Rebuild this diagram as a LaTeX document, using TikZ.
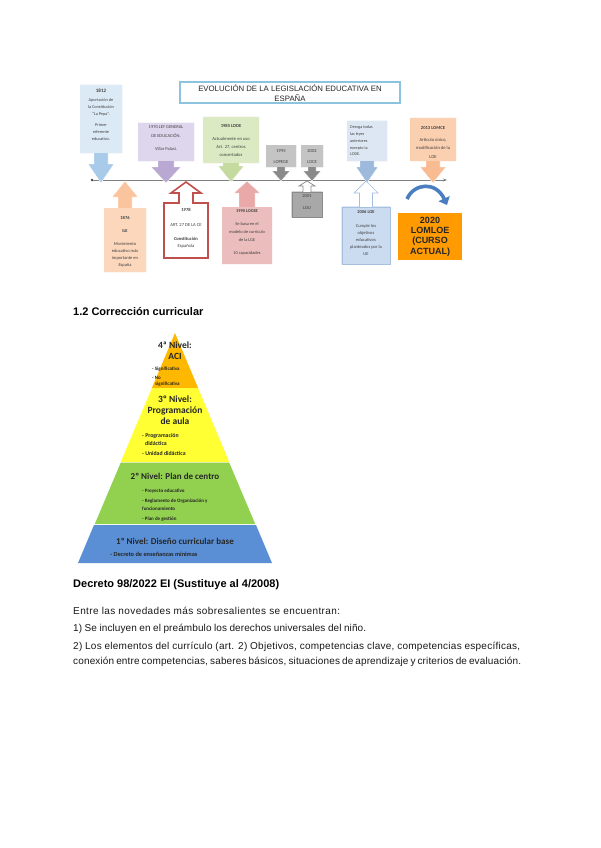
\documentclass[tikz,border=0pt]{standalone}
\usepackage{fontspec}
\setmainfont{Liberation Sans}
\newfontfamily\carl{Carlito}
\newfontfamily\bodyf{Liberation Sans}
\usetikzlibrary{arrows.meta}
\definecolor{tltext}{HTML}{404040}
\definecolor{titleblue}{HTML}{8EC3DF}
\definecolor{lineg}{HTML}{808080}
\definecolor{bBlue}{HTML}{DCEAF6}\definecolor{aBlue}{HTML}{A9CBEA}
\definecolor{bLav}{HTML}{DED6EC}\definecolor{aLav}{HTML}{B9A9D2}
\definecolor{bGreen}{HTML}{DCEAC4}\definecolor{aGreen}{HTML}{C4DA9E}
\definecolor{bGray}{HTML}{C4C4C4}\definecolor{aGray}{HTML}{8A8A8A}
\definecolor{bGray2}{HTML}{A8A8A8}
\definecolor{bBlue2}{HTML}{DDE7F3}\definecolor{aBlue2}{HTML}{9DB9DC}
\definecolor{bPeach}{HTML}{FBD0B0}\definecolor{aPeach}{HTML}{F9BC92}
\definecolor{bPeach2}{HTML}{FCD7BC}\definecolor{aPeach2}{HTML}{FAC59E}
\definecolor{redb}{HTML}{C0504D}
\definecolor{bPink}{HTML}{EBBDBC}\definecolor{aPink}{HTML}{E8A9A8}
\definecolor{bBlue3}{HTML}{CCDCF0}\definecolor{oBlue3}{HTML}{A6C0E0}
\definecolor{orange20}{HTML}{FF9A00}
\definecolor{curveblue}{HTML}{4A7EC0}
\definecolor{pyOrange}{HTML}{FFB800}
\definecolor{pyYellow}{HTML}{FFFF33}
\definecolor{pyGreen}{HTML}{92D050}
\definecolor{pyBlue}{HTML}{5A8FD6}
\newcommand{\callout}[9]{\filldraw[#1] ({#2-#3},#4) -- ({#2+#3},#4) -- ({#2+#3},#5) -- ({#2+#6},#5) -- ({#2+#6},#8) -- ({#2+#7},#8) -- (#2,#9) -- ({#2-#7},#8) -- ({#2-#6},#8) -- ({#2-#6},#5) -- ({#2-#3},#5) -- cycle;}
\begin{document}
\begin{tikzpicture}[x=1pt,y=-1pt,
  tl/.style={font=\carl\fontsize{4.3}{7}\selectfont, text=tltext, align=center, inner sep=0pt, anchor=north},
  pyt/.style={font=\carl\bfseries\fontsize{9.5}{11}\selectfont, text=black!85, align=center, inner sep=0pt},
  pyi/.style={font=\carl\bfseries\fontsize{5}{6}\selectfont, text=black!85, inner sep=0pt, anchor=west},
  body/.style={font=\bodyf\fontsize{10}{12}\selectfont, inner sep=0pt, anchor=west, text=black!90}]
\useasboundingbox (0,0) rectangle (600,848);
\fill[white] (0,0) rectangle (600,848);

% title
\draw[titleblue, line width=1.3pt] (180,82) rectangle (400,103);
\node[font=\fontsize{7.8}{10}\selectfont, align=center, inner sep=0pt, text=black!85] (title) at (290,92.8) {EVOLUCIÓN DE LA LEGISLACIÓN EDUCATIVA EN\\ESPAÑA};

% timeline
\coordinate (tl0) at (92,180);
\coordinate (tl1) at (447,180);
\draw[lineg, line width=0.9pt, -{Stealth[length=4pt,width=3pt]}] (tl0) -- (tl1);
\fill[black!70] (tl0) circle (1.3);

% down callouts
\callout{fill=aBlue, draw=white}{101}{21}{85}{153}{7}{13}{164}{183}
\fill[bBlue] (80,85) rectangle (122,153);
\callout{fill=aLav, draw=white}{166}{28}{123}{161}{8}{15}{167}{183}
\fill[bLav] (138,123) rectangle (194,161);
\callout{fill=aGreen, draw=white}{231}{28}{117}{163}{8}{13}{166}{182}
\fill[bGreen] (203,117) rectangle (259,163);
\callout{fill=aGray, draw=white}{281}{15}{145}{167}{4}{9}{171}{181}
\fill[bGray] (266,145) rectangle (296,167);
\callout{fill=aGray, draw=white}{312}{11}{145}{167}{4}{9}{171}{181}
\fill[bGray] (301,145) rectangle (323,167);
\callout{fill=aBlue2, draw=white}{367}{20}{121}{161}{7}{11}{167}{183}
\fill[bBlue2] (347,121) rectangle (387,161);
\callout{fill=aPeach, draw=white}{433}{23}{118}{161}{7}{13}{167}{183}
\fill[bPeach] (410,118) rectangle (456,161);

% up callouts
\callout{fill=aPeach2, draw=white}{125}{21}{272}{208}{7}{13}{197}{181}
\fill[bPeach2] (104,208) rectangle (146,272);
\callout{fill=white, draw=redb, line width=1.6pt, line join=miter}{186}{22}{258}{203}{7}{15}{193}{182}
\callout{fill=aPink, draw=white}{247}{25}{264}{207}{8}{13}{193}{181}
\fill[bPink] (222,207) rectangle (272,264);
\callout{fill=white, draw=aGray, line width=0.7pt}{307}{15}{217}{192}{4}{8}{186}{181}
\filldraw[fill=bGray2, draw=aGray, line width=0.5pt] (292,192) rectangle (322,217);
\callout{fill=white, draw=oBlue3, line width=0.7pt}{366}{24}{264}{207}{6.5}{12}{193}{181}
\filldraw[fill=bBlue3, draw=oBlue3, line width=0.5pt] (342,207) rectangle (390,264);

% callout texts
\node[tl] (t1812) at (101,89) {{\bfseries\fontsize{5}{7}\selectfont 1812}\\[2pt] Aportación de\\ la Constitución\\ “La Pepa”.\\[4pt] Primer\\ referente\\ educativo.};
\node[tl, font=\carl\fontsize{4.5}{9}\selectfont] (t1970) at (166,125.5) {1970 LEY GENERAL\\ DE EDUCACIÓN.\\[4pt] Villar Palasí.};
\node[tl, font=\carl\fontsize{4.6}{8}\selectfont] (t1985) at (231,124) {{\bfseries 1985 LODE}\\[5pt] Actualmente en uso\\ Art. 27, centros\\ concertados};
\node[tl, font=\carl\fontsize{4.6}{11}\selectfont] (t1995) at (281,149.5) {1995\\ LOPEGE};
\node[tl, font=\carl\fontsize{4.6}{11}\selectfont] (t2002) at (312,149.5) {2002\\ LOCE};
\node[tl, align=left, anchor=north west, font=\carl\fontsize{4.2}{6.8}\selectfont] (tder) at (350,125.5) {Deroga todas\\ las leyes\\ anteriores\\ excepto la\\ LODE.};
\node[tl, font=\carl\fontsize{4.6}{8.5}\selectfont] (t2013) at (433,126) {{\bfseries 2013 LOMCE}\\[3.5pt] Artículo único,\\ modificación de la\\ LOE};
\node[tl, font=\carl\fontsize{4.5}{7}\selectfont] (t1876) at (125,216) {{\bfseries 1876}\\[6pt] {\bfseries ILE}\\[6pt] Movimiento\\ educativo más\\ importante en\\ España};
\node[tl, font=\carl\fontsize{4.6}{7}\selectfont] (t1978) at (186,208) {{\bfseries 1978}\\[8pt] ART. 27 DE LA CE\\[7pt] {\bfseries Constitución}\\ Española};
\node[tl, font=\carl\fontsize{4.4}{8}\selectfont] (t1990) at (247,209) {{\bfseries 1990 LOGSE}\\[5pt] Se basa en el\\ modelo de currículo\\ de la LGE\\[5pt] 10 capacidades};
\node[tl, font=\carl\fontsize{4.6}{12}\selectfont, text=black!75] (t2001) at (307,194) {2001\\ LOU};
\node[tl, font=\carl\fontsize{4.5}{7}\selectfont] (t2006) at (366,210) {{\bfseries 2006 LOE}\\[7pt] Cumple los\\ objetivos\\ educativos\\ planteados por la\\ UE};

% 2020 box
\node[fill=orange20, minimum width=64pt, minimum height=47pt, inner sep=0pt, align=center, font=\bfseries\fontsize{9}{10.2}\selectfont, text=black!85] (b2020) at (430,236.5) {2020\\LOMLOE\\(CURSO\\ACTUAL)};

% curved arrow
\coordinate (ca1) at (407,199);
\coordinate (ca2) at (447,205);
\draw[curveblue, line width=3.6pt, -{Triangle[length=7pt,width=12pt]}] (ca1) .. controls (414,183) and (436,181) .. (ca2);

% heading
\node[font=\bfseries\fontsize{11}{13}\selectfont, inner sep=0pt, anchor=west] (h12) at (73,312) {1.2 Corrección curricular};

% pyramid
\fill[pyOrange] (175,333) -- (198.1,388) -- (151.9,388) -- cycle;
\fill[pyYellow] (151.9,388) -- (198.1,388) -- (229.2,462) -- (120.8,462) -- cycle;
\fill[pyGreen] (120.8,462.5) -- (229.2,462.5) -- (255.2,524) -- (94.8,524) -- cycle;
\fill[pyBlue] (94,525) -- (256,525) -- (272,563) -- (78,563) -- cycle;

\node[pyt] (l4) at (175,350.5) {4ª Nivel:\\ACI};
\node[pyi] (l4a) at (152,369.5) {- Significativa};
\node[pyi] (l4b) at (152,377.5) {- No};
\node[pyi] (l4c) at (155,384) {significativa};
\node[pyt] (l3) at (175,410.5) {3º Nivel:\\Programación\\de aula};
\node[pyi, font=\carl\bfseries\fontsize{5.8}{7}\selectfont] (l3a) at (142,435.5) {- Programación};
\node[pyi, font=\carl\bfseries\fontsize{5.8}{7}\selectfont] (l3b) at (145,443) {didáctica};
\node[pyi, font=\carl\bfseries\fontsize{5.8}{7}\selectfont] (l3c) at (142,453.5) {- Unidad didáctica};
\node[pyt, font=\carl\bfseries\fontsize{9}{11}\selectfont] (l2) at (175,476.5) {2º Nivel: Plan de centro};
\node[pyi] (l2a) at (142,491) {- Proyecto educativo};
\node[pyi] (l2b) at (142,501) {- Reglamento de Organización y};
\node[pyi] (l2c) at (142,508.5) {funcionamiento};
\node[pyi] (l2d) at (142,519.5) {- Plan de gestión};
\node[pyt, font=\carl\bfseries\fontsize{9}{11}\selectfont] (l1) at (175,541.5) {1º Nivel: Diseño curricular base};
\node[pyi, font=\carl\bfseries\fontsize{6.3}{7}\selectfont] (l1a) at (110,554.5) {- Decreto de enseñanzas mínimas};

% bottom text
\node[font=\bfseries\fontsize{11}{13}\selectfont, inner sep=0pt, anchor=west] (dec) at (73,585) {Decreto 98/2022 EI (Sustituye al 4/2008)};
\node[body] (p1) at (73,611) {\addfontfeature{LetterSpace=4}\makebox[267pt][s]{Entre las novedades más sobresalientes se encuentran:}};
\node[body] (p2) at (73,629) {\addfontfeature{LetterSpace=1}\makebox[293pt][s]{1) Se incluyen en el preámbulo los derechos universales del niño.}};
\node[body] (p3) at (73,647) {\addfontfeature{LetterSpace=2.5}\makebox[447pt][s]{2) Los elementos del currículo (art. 2) Objetivos, competencias clave, competencias específicas,}};
\node[body] (p4) at (73,661.5) {\addfontfeature{LetterSpace=1.5}\makebox[448pt][s]{conexión entre competencias, saberes básicos, situaciones de aprendizaje y criterios de evaluación.}};
\end{tikzpicture}
\end{document}
